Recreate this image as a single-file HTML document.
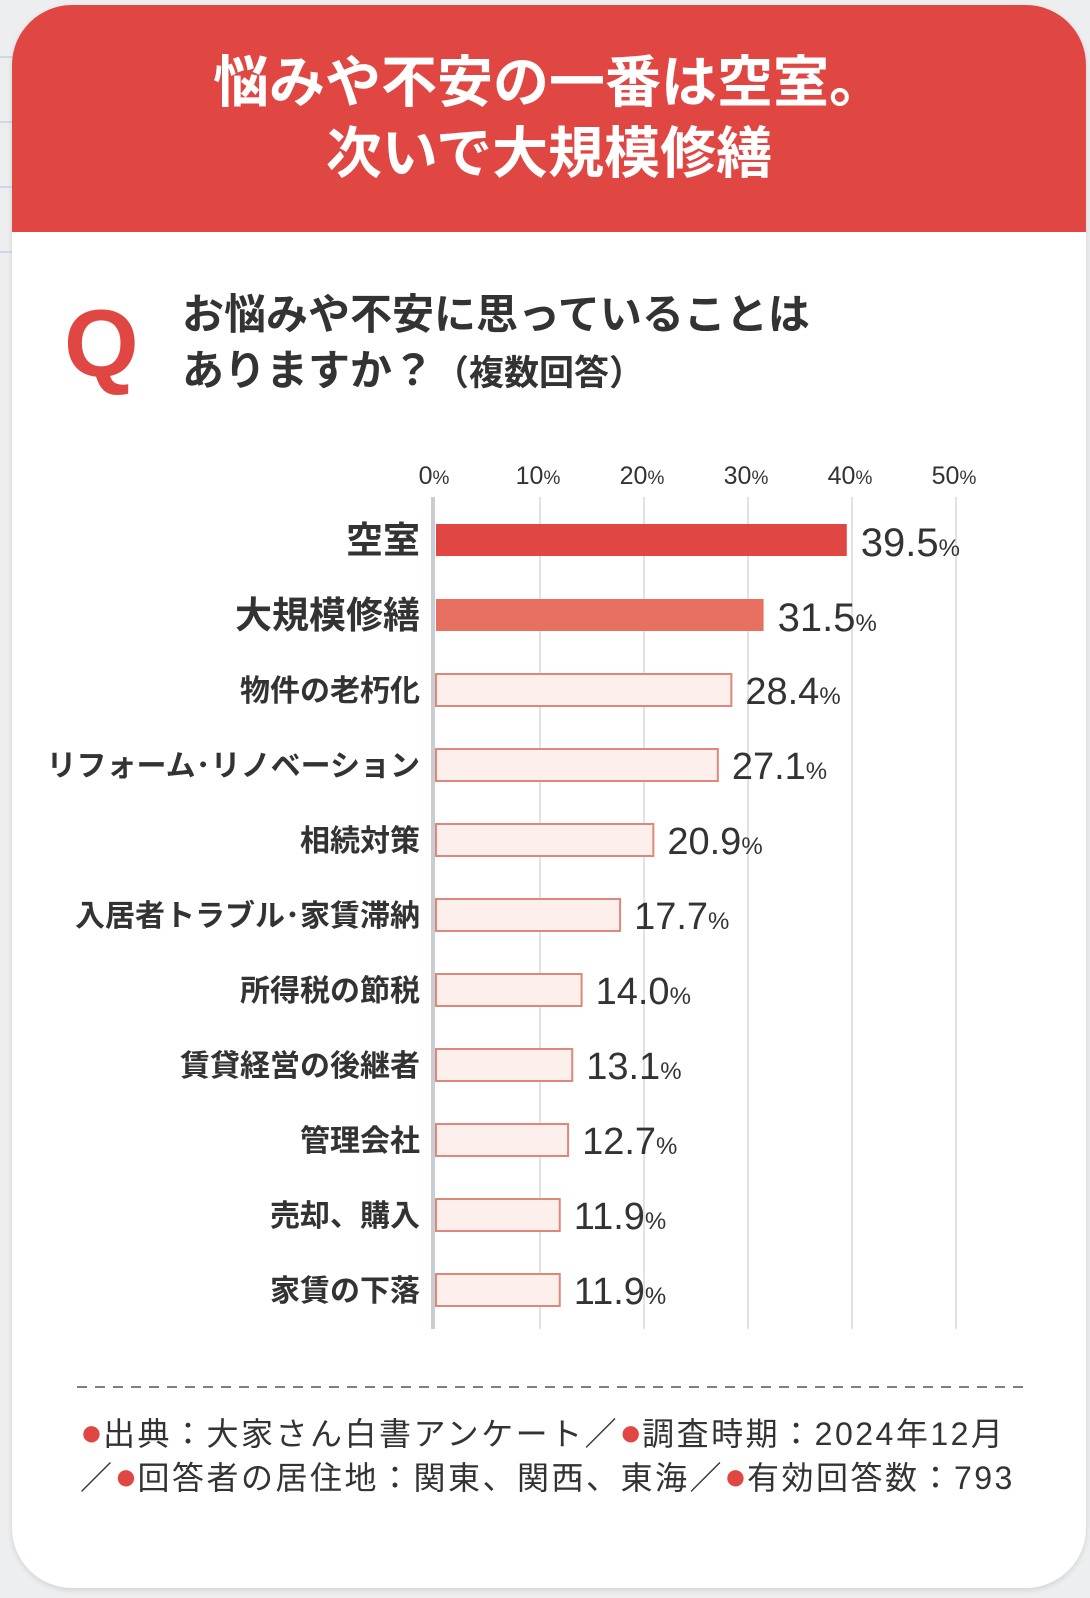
<!DOCTYPE html>
<html><head><meta charset="utf-8">
<style>
html,body{margin:0;padding:0}
body{width:1090px;height:1598px;position:relative;overflow:hidden;background:#eceef0;font-family:"Liberation Sans","Noto Sans CJK JP",sans-serif;color:#333}
.gridline{position:absolute;left:0;width:14px;height:2px;background:#cdd9e6}
#card{position:absolute;left:12px;top:5px;width:1074px;height:1583px;background:#fff;border-radius:60px;overflow:hidden;box-shadow:0 2px 6px rgba(0,0,0,.12)}
#header{position:absolute;left:0;top:0;width:100%;height:227px;background:#e04742;color:#fff;text-align:center;font-weight:bold;font-size:56px;line-height:71px;padding-top:42px;box-sizing:border-box}
#q{position:absolute;left:52px;top:284px;font-size:96px;font-weight:bold;color:#e04742;font-family:"Liberation Sans",sans-serif}
#question{position:absolute;left:170px;top:282px;font-size:42px;font-weight:bold;line-height:56px;color:#333}
#question small{font-size:35px}
svg{position:absolute;left:0;top:0}
#footer{position:absolute;left:68px;top:1407px;font-size:32px;line-height:44px;color:#333;letter-spacing:2.5px;white-space:nowrap}
.dot{color:#e04742;font-size:38px;line-height:32px;letter-spacing:0}
</style></head><body>
<div class="gridline" style="top:56px"></div>
<div class="gridline" style="top:121px"></div>
<div class="gridline" style="top:186px"></div>
<div class="gridline" style="top:251px"></div>
<div id="card">
 <div id="header">悩みや不安の一番は空室。<br>次いで大規模修繕</div>
 <div id="q">Q</div>
 <div id="question">お悩みや不安に思っていることは<br>ありますか？<small>（複数回答）</small></div>
 <div id="footer"><span class="dot">●</span>出典：大家さん白書アンケート／<span class="dot">●</span>調査時期：2024年12月<br>／<span class="dot">●</span>回答者の居住地：関東、関西、東海／<span class="dot">●</span>有効回答数：793</div>
</div>
<svg id="chart" width="1090" height="1598"></svg>
<script>
const categories=["空室","大規模修繕","物件の老朽化","リフォーム・リノベーション","相続対策","入居者トラブル・家賃滞納","所得税の節税","賃貸経営の後継者","管理会社","売却、購入","家賃の下落"];
const values=[39.5,31.5,28.4,27.1,20.9,17.7,14.0,13.1,12.7,11.9,11.9];
const ticks=[0,10,20,30,40,50];
const NS="http://www.w3.org/2000/svg";
const svg=document.getElementById('chart');
const x0=436, pxPer=10.4, y0=540, step=75, bh=32;
const xs=v=>x0+v*pxPer;
const ys=i=>y0+i*step;
function mk(t,a){const e=document.createElementNS(NS,t);for(const k in a)e.setAttribute(k,a[k]);svg.appendChild(e);return e;}
ticks.forEach(t=>{
 if(t>0){const l=mk('line',{x1:xs(t),x2:xs(t),y1:497,y2:1329,stroke:'#d6d9dc','stroke-width':1.5});
 
 }
 const tx=mk('text',{x:xs(t)-2,y:484,'text-anchor':'middle','font-size':25,fill:'#333'});
 
 
 tx.innerHTML=t+'<tspan font-size="19">%</tspan>';
});
const ax=mk('line',{x1:433,x2:433,y1:497,y2:1329,stroke:'#c9ccd0','stroke-width':4});


categories.forEach((c,i)=>{
 const v=values[i], y=ys(i);
 let fill='#fdf0ec',stroke='#e0877b',sw=2;
 if(i===0){fill='#e04742';stroke='none';sw=0;}
 if(i===1){fill='#e87060';stroke='none';sw=0;}
 const r=mk('rect',{x:x0,y:y-bh/2,width:xs(v)-x0,height:bh,fill:fill,stroke:stroke,'stroke-width':sw});
 
 
 const big=i<2;
 const lb=mk('text',{x:420,y:y+(big?13:11),'text-anchor':'end','font-size':big?37:30,'font-weight':'bold',fill:'#333'});
 
 
 lb.textContent=c.replace('・','･');
 const vt=mk('text',{x:xs(v)+14,y:y+(big?16:14),'font-size':big?40:38,fill:'#333'});
 
 
 vt.innerHTML=v.toFixed(1)+'<tspan font-size="24">%</tspan>';
});
const d=mk('line',{x1:77,x2:1026,y1:1387,y2:1387,stroke:'#555','stroke-width':1.5,'stroke-dasharray':'10 8'});


</script>
</body></html>
